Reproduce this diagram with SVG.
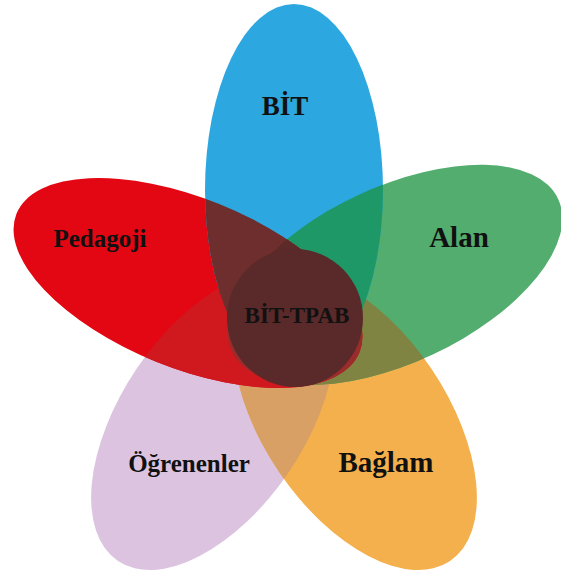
<svg xmlns="http://www.w3.org/2000/svg" xmlns:xlink="http://www.w3.org/1999/xlink" width="561" height="581" viewBox="0 0 561 581">
  <style>
    .lbl { font-family: "Liberation Serif", "DejaVu Serif", serif; font-weight: bold; fill: #111111; text-anchor: middle; }
  </style>
  <defs>
    <ellipse id="eB" cx="294" cy="190" rx="89" ry="186"/>
    <ellipse id="eR" cx="188" cy="283" rx="185" ry="85" transform="rotate(22 188 283)"/>
    <ellipse id="eG" cx="395" cy="275" rx="180" ry="88" transform="rotate(-25 395 275)"/>
    <ellipse id="eP" cx="213" cy="420" rx="170" ry="92" transform="rotate(-56 213 420)"/>
    <ellipse id="eO" cx="355" cy="420" rx="170" ry="92" transform="rotate(56 355 420)"/>
    <clipPath id="cB"><use xlink:href="#eB"/></clipPath>
    <clipPath id="cR"><use xlink:href="#eR"/></clipPath>
    <clipPath id="cG"><use xlink:href="#eG"/></clipPath>
    <clipPath id="cP"><use xlink:href="#eP"/></clipPath>
    <clipPath id="cO"><use xlink:href="#eO"/></clipPath>
  </defs>

  <g id="petal-ogrenenler">
    <use xlink:href="#eP" fill="#DCC4E0"/>
  </g>
  <g id="petal-baglam">
    <use xlink:href="#eO" fill="#F4B04C"/>
  </g>
  <g id="petal-alan">
    <use xlink:href="#eG" fill="#52AD6E"/>
  </g>
  <g id="petal-pedagoji">
    <use xlink:href="#eR" fill="#E30613"/>
  </g>
  <g id="petal-bit">
    <use xlink:href="#eB" fill="#2CA7E0"/>
  </g>

  <g id="overlaps">
    <use xlink:href="#eO" fill="#D9A065" clip-path="url(#cP)"/>
    <use xlink:href="#eO" fill="#7F8442" clip-path="url(#cG)"/>
    <use xlink:href="#eP" fill="#D0191F" clip-path="url(#cR)"/>
    <use xlink:href="#eO" fill="#D0191F" clip-path="url(#cR)"/>
    <use xlink:href="#eG" fill="#1F9868" clip-path="url(#cB)"/>
    <use xlink:href="#eB" fill="#6E2E2D" clip-path="url(#cR)"/>
    <use xlink:href="#eG" fill="#9A2C2C" clip-path="url(#cR)"/>
    <g clip-path="url(#cB)">
      <use xlink:href="#eG" fill="#5C2A29" clip-path="url(#cR)"/>
    </g>
  </g>

  <g id="center-bit-tpab">
    <ellipse cx="295" cy="318" rx="68" ry="69" fill="#5A2929"/>
    <text class="lbl" x="297" y="323" font-size="23">BİT-TPAB</text>
  </g>

  <g id="labels">
    <text class="lbl" x="285" y="115" font-size="27">BİT</text>
    <text class="lbl" x="459" y="247" font-size="29">Alan</text>
    <text class="lbl" x="100" y="247" font-size="25">Pedagoji</text>
    <text class="lbl" x="189" y="472" font-size="25">Öğrenenler</text>
    <text class="lbl" x="386" y="472" font-size="29">Bağlam</text>
  </g>
</svg>
